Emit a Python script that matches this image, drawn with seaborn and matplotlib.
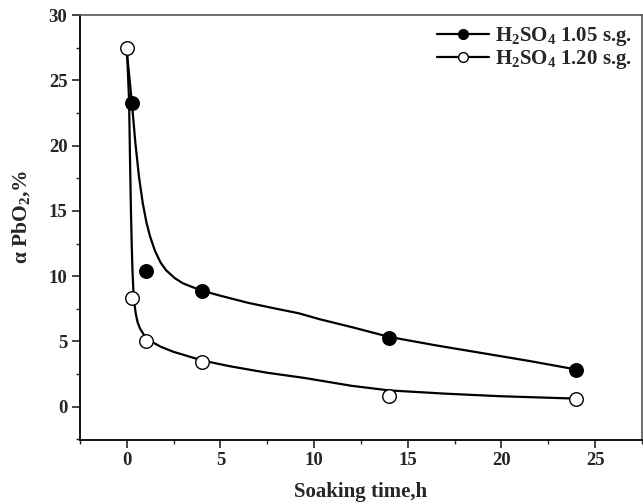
import matplotlib
matplotlib.use("Agg")
import matplotlib.pyplot as plt
from matplotlib.lines import Line2D
from matplotlib.ticker import MultipleLocator
import seaborn as sns
import pandas as pd

# measured points
time_105 = [0.27, 1.0, 4.0, 14.0, 24.0]
pbo2_105 = [23.3, 10.4, 8.85, 5.3, 2.85]
time_120 = [0.0, 0.27, 1.0, 4.0, 14.0, 24.0]
pbo2_120 = [27.5, 8.35, 5.0, 3.45, 0.85, 0.6]

# fitted curves
curve_x_105 = [0, 0.27, 0.45, 0.65, 0.85, 1.05, 1.25, 1.5, 1.8, 2.1, 2.56, 3.0, 3.53,
               4.0, 5.0, 6.5, 8.0, 9.2, 10.3, 12, 14, 16.5, 19, 21.5, 24]
curve_y_105 = [27.2, 23.3, 20.3, 17.6, 15.6, 14.1, 13.0, 11.95, 11.05, 10.45, 9.85, 9.45,
               9.15, 8.9, 8.5, 7.95, 7.5, 7.15, 6.7, 6.1, 5.35, 4.7, 4.1, 3.5, 2.85]
curve_x_120 = [0, 0.06, 0.12, 0.17, 0.22, 0.26, 0.3, 0.35, 0.41, 0.48, 0.57, 0.7, 0.96,
               1.3, 1.8, 2.5, 3.2, 4.0, 5.5, 7.5, 9.5, 12, 14, 17, 20, 24]
curve_y_120 = [27.5, 25.5, 23.5, 19.0, 15.0, 12.5, 10.5, 8.9, 7.85, 7.1, 6.5, 6.0, 5.4,
               5.0, 4.6, 4.2, 3.9, 3.55, 3.1, 2.6, 2.2, 1.6, 1.25, 1.0, 0.8, 0.62]

labels = [r"H$_\mathbf{2}$SO$_\mathbf{4}$ 1.05 s.g.", r"H$_\mathbf{2}$SO$_\mathbf{4}$ 1.20 s.g."]

sns.set_style("ticks")
plt.rcParams["font.family"] = ["Liberation Serif", "DejaVu Serif"]
plt.rcParams["font.weight"] = "bold"
plt.rcParams["mathtext.fontset"] = "custom"
plt.rcParams["mathtext.rm"] = "Liberation Serif:bold"
plt.rcParams["mathtext.it"] = "Liberation Serif:bold"
plt.rcParams["mathtext.bf"] = "Liberation Serif:bold"

fig = plt.figure(figsize=(6.43, 5.04), dpi=100)
ax = fig.add_axes([0.1244, 0.127, 0.874, 0.843])

df_c1 = pd.DataFrame({"x": curve_x_105, "y": curve_y_105})
df_c2 = pd.DataFrame({"x": curve_x_120, "y": curve_y_120})
sns.lineplot(data=df_c1, x="x", y="y", ax=ax, color="black", lw=1.6, sort=False,
             estimator=None)
sns.lineplot(data=df_c2, x="x", y="y", ax=ax, color="black", lw=1.6, sort=False,
             estimator=None)

df_p1 = pd.DataFrame({"x": time_105, "y": pbo2_105})
df_p2 = pd.DataFrame({"x": time_120, "y": pbo2_120})
sns.scatterplot(data=df_p1, x="x", y="y", ax=ax, s=95, color="black",
                edgecolor="black", linewidth=1.0, zorder=5)
sns.scatterplot(data=df_p2, x="x", y="y", ax=ax, s=95, color="white",
                edgecolor="black", linewidth=1.0, zorder=5)

ax.set_xlim(-2.5, 27.5)
ax.set_ylim(-2.55, 30)
ax.xaxis.set_major_locator(MultipleLocator(5))
ax.xaxis.set_minor_locator(MultipleLocator(2.5))
ax.yaxis.set_major_locator(MultipleLocator(5))
ax.yaxis.set_minor_locator(MultipleLocator(2.5))
ax.tick_params(which="major", length=5.5, width=1.2, labelsize=13.5, direction="out")
ax.tick_params(which="minor", length=2.8, width=1.0, direction="out")
for lab in ax.get_xticklabels() + ax.get_yticklabels():
    lab.set_fontweight("bold")

for side in ["left", "bottom"]:
    ax.spines[side].set_linewidth(1.3)
    ax.spines[side].set_color("black")
for side in ["top", "right"]:
    ax.spines[side].set_visible(True)
    ax.spines[side].set_linewidth(1.2)
    ax.spines[side].set_color("#555555")

ax.set_xlabel("Soaking time,h", fontsize=15, fontweight="bold", labelpad=9)
ax.set_ylabel("α PbO$_\\mathbf{2}$,%", fontsize=15.5, fontweight="bold")
ax.yaxis.set_label_coords(-0.085, 0.525)

handles = [
    Line2D([], [], color="black", lw=1.6, marker="o", markersize=7,
           markerfacecolor="black", markeredgecolor="black"),
    Line2D([], [], color="black", lw=1.6, marker="o", markersize=7,
           markerfacecolor="white", markeredgecolor="black"),
]
ax.legend(handles, labels, loc="upper right", frameon=False,
          prop={"family": "Liberation Serif", "weight": "bold", "size": 15},
          handlelength=2.5, handletextpad=0.3, labelspacing=0.0,
          borderaxespad=0.2, bbox_to_anchor=(1.005, 1.005))

fig.savefig("out.png", dpi=100)
